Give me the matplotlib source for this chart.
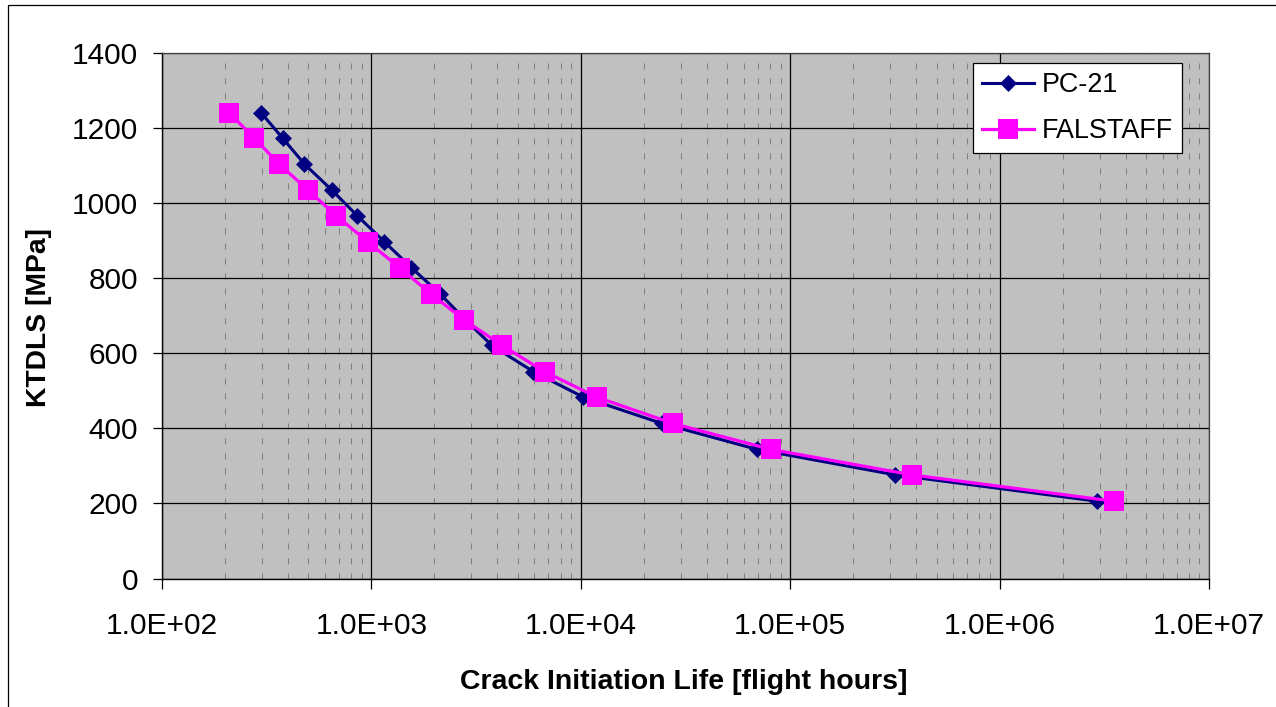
import matplotlib
matplotlib.use("Agg")
import matplotlib.pyplot as plt
from matplotlib.ticker import LogLocator, FixedLocator, NullFormatter, FuncFormatter
from matplotlib.patches import Rectangle

# ---- data ----
ktdls = [1241, 1173, 1104, 1035, 967, 897, 828, 758, 690, 621, 551, 483, 413, 344, 276, 206]
pc21_life = [297, 377, 479, 647, 854, 1154, 1553, 2130, 2800, 3760, 5940, 10300,
             24400, 69400, 318000, 2920000]
falstaff_life = [209, 276, 363, 497, 678, 961, 1364, 1928, 2757, 4210, 6710, 11940,
                 27540, 80800, 382000, 3510000]
series_names = ["PC-21", "FALSTAFF"]
y_ticks = [0, 200, 400, 600, 800, 1000, 1200, 1400]
x_ticks = [1e2, 1e3, 1e4, 1e5, 1e6, 1e7]
x_label = "Crack Initiation Life [flight hours]"
y_label = "KTDLS [MPa]"

plt.rcParams['font.family'] = ['Liberation Sans', 'DejaVu Sans']

W, H = 1276, 707
fig = plt.figure(figsize=(W / 100, H / 100), dpi=100)
fig.patch.set_facecolor('white')

# outer chart frame
fig.patches.append(Rectangle((7.5 / W, 0 - 0.05), 1.2, 1 - 5 / H + 0.05,
                             transform=fig.transFigure, fill=False,
                             edgecolor='black', linewidth=0.9, zorder=0))

left, right, top, bottom = 162, 1209, 53, 578.5
ax = fig.add_axes([left / W, 1 - bottom / H, (right - left) / W, (bottom - top) / H])
ax.set_facecolor('#C0C0C0')

ax.set_xscale('log')
ax.set_xlim(1e2, 1e7)
ax.set_ylim(0, 1400)

ax.xaxis.set_major_locator(FixedLocator(x_ticks))
ax.xaxis.set_minor_locator(LogLocator(base=10, subs=range(2, 10), numticks=100))
ax.xaxis.set_minor_formatter(NullFormatter())
ax.xaxis.set_major_formatter(FuncFormatter(lambda v, p: "%.1E" % v))
ax.yaxis.set_major_locator(FixedLocator(y_ticks))

ax.grid(which='major', axis='both', color='black', linewidth=0.9, zorder=1)
ax.grid(which='minor', axis='x', color='#808080', linewidth=0.75,
        linestyle=(0, (5.8, 8.6)), zorder=1)
ax.set_axisbelow(True)

ax.tick_params(axis='y', which='major', direction='out', length=6.3, width=0.9,
               pad=11, labelsize=21.5, colors='black')
ax.tick_params(axis='x', which='major', direction='out', length=7, width=0.9,
               pad=17, labelsize=21.5, colors='black')
ax.tick_params(axis='x', which='minor', length=0)

for s in ['left', 'bottom']:
    ax.spines[s].set_color('black')
    ax.spines[s].set_linewidth(1.0)
for s in ['top', 'right']:
    ax.spines[s].set_color('#404040')
    ax.spines[s].set_linewidth(0.9)

ax.plot(pc21_life, ktdls, color='#000080', linewidth=2.2, marker='D',
        markersize=8.5, markerfacecolor='#000080', markeredgecolor='#000080',
        markeredgewidth=0.5, zorder=3, label=series_names[0])
ax.plot(falstaff_life, ktdls, color='#FF00FF', linewidth=2.3, marker='s',
        markersize=14.4, markerfacecolor='#FF00FF', markeredgecolor='#FF00FF',
        markeredgewidth=0, zorder=4, label=series_names[1])

leg = ax.legend(loc='upper left', bbox_to_anchor=(972.7 / W, 1 - 63.3 / H),
                bbox_transform=fig.transFigure, borderaxespad=0,
                fontsize=19.4, frameon=True, fancybox=False, framealpha=1,
                edgecolor='black', handlelength=1.95, handletextpad=0.3,
                labelspacing=0.75, borderpad=0.33)
leg.get_frame().set_linewidth(0.9)

fig.text(683.7 / W, 1 - 689.3 / H, x_label, ha='center', va='baseline',
         fontsize=20.5, fontweight='bold')
fig.text(46 / W, 1 - 317.5 / H, y_label, ha='center', va='baseline',
         rotation=90, rotation_mode='anchor', fontsize=20.3, fontweight='bold')

fig.savefig('out.png', dpi=100, facecolor='white')
